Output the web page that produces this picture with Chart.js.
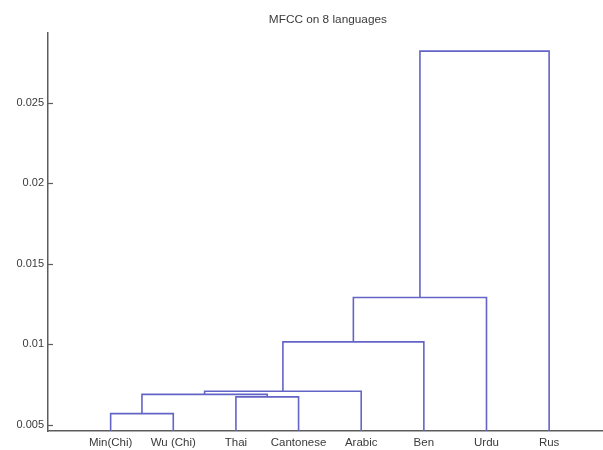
<!DOCTYPE html>
<html>
<head>
<meta charset="utf-8">
<script src="https://cdn.jsdelivr.net/npm/chart.js@4/dist/chart.umd.min.js"></script>
<style>
  html, body { margin: 0; padding: 0; background: #ffffff; }
  #wrap { width: 603px; height: 450px; position: relative; }
</style>
</head>
<body>
<div id="wrap"><canvas id="c"></canvas></div>
<script>
// Leaves of the dendrogram, left to right
const leafLabels = ['Min(Chi)', 'Wu (Chi)', 'Thai', 'Cantonese', 'Arabic', 'Ben', 'Urdu', 'Rus'];

// Linkage steps: cluster ids 0..7 are leaves, each merge creates id 8, 9, ...
const mergeLeft   = [0, 2, 8, 10, 11, 12, 13];
const mergeRight  = [1, 3, 9, 4, 5, 6, 7];
const mergeHeight = [0.00568, 0.00672, 0.00688, 0.00707, 0.01014, 0.0129, 0.02822];

// Axis ticks
const yTickValues = [0.005, 0.01, 0.015, 0.02, 0.025];
const yTickLabels = ['0.005', '0.01', '0.015', '0.02', '0.025'];
const yMin = 0.0046;
const yMax = 0.02935;

const titleText = 'MFCC on 8 languages';
const linkColor = 'rgb(100,100,198)';
const axisColor = '#5c5c5c';
const textColor = '#3a3a3a';
const fontFamily = '"Liberation Sans", Arial, sans-serif';

// Each node's horizontal position (leaf index + 1) and height
const nodeX = leafLabels.map((_, i) => i + 1);
const nodeY = leafLabels.map(() => yMin);
const linkSets = [];
mergeLeft.forEach((l, k) => {
  const r = mergeRight[k];
  const h = mergeHeight[k];
  linkSets.push({
    data: [
      { x: nodeX[l], y: nodeY[l] },
      { x: nodeX[l], y: h },
      { x: nodeX[r], y: h },
      { x: nodeX[r], y: nodeY[r] }
    ],
    borderColor: linkColor,
    borderWidth: 1.6,
    showLine: true,
    fill: false,
    tension: 0,
    pointRadius: 0,
    pointHoverRadius: 0
  });
  nodeX.push((nodeX[l] + nodeX[r]) / 2);
  nodeY.push(h);
});

// Inward tick marks on the value axis and the title centred over the axes
const decorations = {
  id: 'decorations',
  afterDraw(chart) {
    const ctx = chart.ctx;
    const ys = chart.scales.y;
    const xs = chart.scales.x;
    const left = chart.chartArea.left;
    ctx.save();
    ctx.strokeStyle = axisColor;
    ctx.lineWidth = 1.2;
    yTickValues.forEach(v => {
      const py = Math.round(ys.getPixelForValue(v)) + 0.5;
      ctx.beginPath();
      ctx.moveTo(left, py);
      ctx.lineTo(left + 5, py);
      ctx.stroke();
    });
    ctx.fillStyle = textColor;
    ctx.font = '11.8px ' + fontFamily;
    ctx.textAlign = 'center';
    ctx.textBaseline = 'middle';
    ctx.fillText(titleText, xs.getPixelForValue(4.5) - 2, 19.5);
    ctx.restore();
  }
};

new Chart(document.getElementById('c'), {
  type: 'scatter',
  data: { datasets: linkSets },
  options: {
    responsive: true,
    maintainAspectRatio: false,
    animation: false,
    clip: false,
    layout: { padding: { top: 33, left: 0, right: 0, bottom: 0 } },
    plugins: {
      legend: { display: false },
      tooltip: { enabled: false },
      title: { display: false }
    },
    scales: {
      x: {
        type: 'linear',
        min: 0,
        max: 8.86,
        grid: { display: false, drawTicks: false },
        border: { display: true, color: axisColor, width: 1.5 },
        afterBuildTicks(scale) {
          scale.ticks = leafLabels.map((_, i) => ({ value: i + 1 }));
        },
        afterFit(scale) { scale.height = 19; },
        ticks: {
          autoSkip: false,
          maxRotation: 0,
          padding: 5,
          color: textColor,
          font: { family: fontFamily, size: 11.5 },
          callback: (v) => leafLabels[Math.round(v) - 1]
        }
      },
      y: {
        type: 'linear',
        min: yMin,
        max: yMax,
        grid: { display: false, drawTicks: false },
        border: { display: true, color: axisColor, width: 1.5 },
        afterBuildTicks(scale) {
          scale.ticks = yTickValues.map(v => ({ value: v }));
        },
        afterFit(scale) { scale.width = 48; },
        ticks: {
          padding: 4,
          color: textColor,
          font: { family: fontFamily, size: 11 },
          callback: (v) => yTickLabels[yTickValues.findIndex(t => Math.abs(t - v) < 1e-9)]
        }
      }
    }
  },
  plugins: [decorations]
});
</script>
</body>
</html>
